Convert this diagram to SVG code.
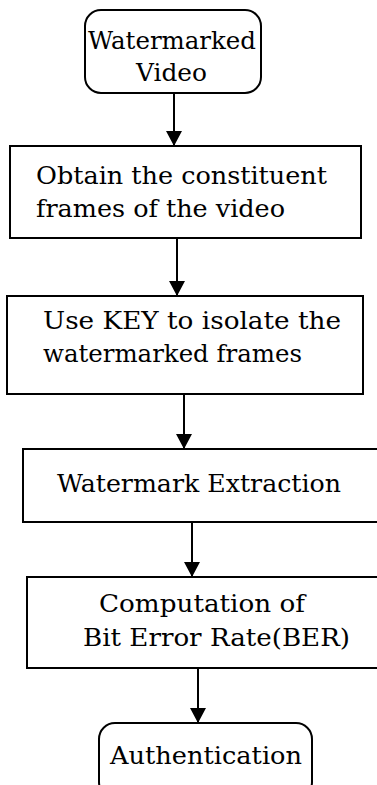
<svg xmlns="http://www.w3.org/2000/svg" width="377" height="785" viewBox="0 0 377 785">
<style>
.box{fill:#fff;stroke:#000;stroke-width:2}
.t{font-size:25px;fill:#000}
.c{stroke:#000;stroke-width:2;fill:none}
</style>
<defs>
<marker id="ah" markerWidth="15" markerHeight="16" refX="15" refY="8" orient="auto" markerUnits="userSpaceOnUse" viewBox="0 0 15 16">
<path d="M0,0 L15,8 L0,16 Z" fill="#000"/>
</marker>
</defs>
<rect width="377" height="785" fill="#fff"/>
<g id="connectors">
<line class="c" x1="174" y1="93" x2="174" y2="146" marker-end="url(#ah)"/>
<line class="c" x1="177" y1="238" x2="177" y2="296" marker-end="url(#ah)"/>
<line class="c" x1="184" y1="394" x2="184" y2="449" marker-end="url(#ah)"/>
<line class="c" x1="192" y1="522" x2="192" y2="577" marker-end="url(#ah)"/>
<line class="c" x1="198" y1="668" x2="198" y2="723" marker-end="url(#ah)"/>
</g>
<g font-family="DejaVu Serif, serif">
<g id="n1">
<rect class="box" x="85" y="10" width="176" height="83" rx="16"/>
<text class="t" x="88" y="49" textLength="168" lengthAdjust="spacingAndGlyphs">Watermarked</text>
<text class="t" x="136" y="81" textLength="71" lengthAdjust="spacingAndGlyphs">Video</text>
</g>
<g id="n2">
<rect class="box" x="10" y="146" width="351" height="92"/>
<text class="t" x="36" y="184" textLength="291" lengthAdjust="spacingAndGlyphs">Obtain the constituent</text>
<text class="t" x="36" y="217" textLength="249" lengthAdjust="spacingAndGlyphs">frames of the video</text>
</g>
<g id="n3">
<rect class="box" x="7" y="296" width="356" height="98"/>
<text class="t" x="43" y="329" textLength="298" lengthAdjust="spacingAndGlyphs">Use KEY to isolate the</text>
<text class="t" x="43" y="362" textLength="259" lengthAdjust="spacingAndGlyphs">watermarked frames</text>
</g>
<g id="n4">
<rect class="box" x="23" y="449" width="360" height="73"/>
<text class="t" x="57" y="492" textLength="284" lengthAdjust="spacingAndGlyphs">Watermark Extraction</text>
</g>
<g id="n5">
<rect class="box" x="27" y="577" width="360" height="91"/>
<text class="t" x="99" y="612" textLength="206" lengthAdjust="spacingAndGlyphs">Computation of</text>
<text class="t" x="83" y="646" textLength="267" lengthAdjust="spacingAndGlyphs">Bit Error Rate(BER)</text>
</g>
<g id="n6">
<rect class="box" x="99" y="723" width="213" height="75" rx="16"/>
<text class="t" x="110" y="764" textLength="192" lengthAdjust="spacingAndGlyphs">Authentication</text>
</g>
</g>
</svg>
